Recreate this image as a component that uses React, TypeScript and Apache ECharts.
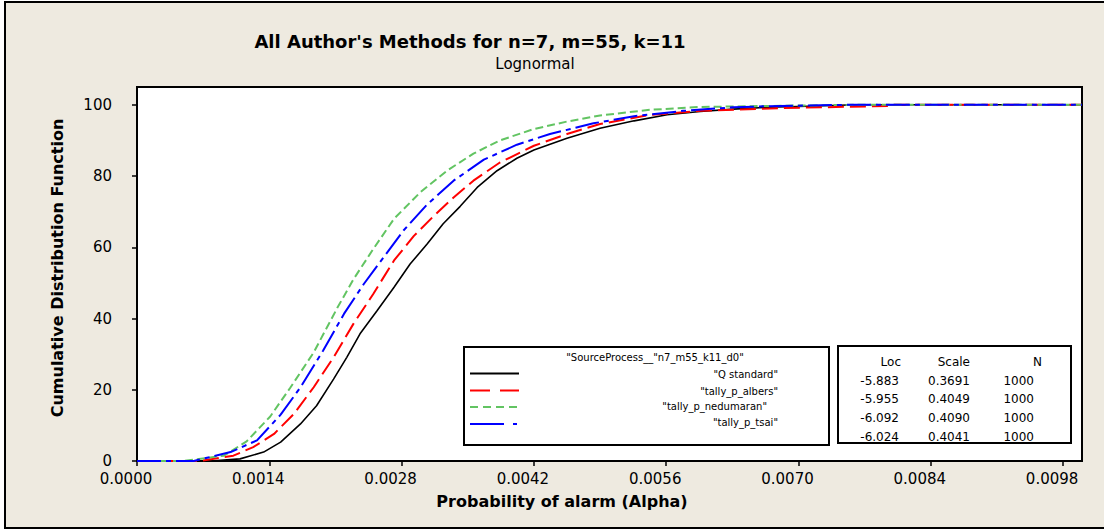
import React, { useEffect, useRef } from "react";
import * as echarts from "echarts";

// ---- Data ----
const X_TICKS = [0, 0.0014, 0.0028, 0.0042, 0.0056, 0.007, 0.0084, 0.0098];
const Y_TICKS = [0, 20, 40, 60, 80, 100];

const SERIES_NAMES = ["Q standard", "tally_p_albers", "tally_p_nedumaran", "tally_p_tsai"];

const qStdX = [0, 0.00078, 0.00109, 0.00134, 0.00152, 0.00173, 0.0019, 0.00208, 0.00222, 0.00236, 0.00254, 0.00272, 0.00289, 0.00307, 0.00324, 0.00342, 0.0036, 0.00381, 0.00402, 0.0042, 0.00455, 0.0049, 0.00526, 0.00561, 0.00596, 0.00631, 0.00667, 0.0071, 0.0076, 0.01];
const qStdY = [0, 0, 0.6, 2.5, 5.3, 10.4, 15.5, 23.0, 29.1, 35.7, 42.2, 48.8, 55.3, 60.9, 66.6, 71.5, 76.8, 81.5, 85.0, 87.3, 90.6, 93.4, 95.5, 97.2, 98.1, 98.8, 99.3, 99.6, 100, 100];

const albersX = [0, 0.00067, 0.00102, 0.00123, 0.00145, 0.00166, 0.00187, 0.00208, 0.00229, 0.0025, 0.00272, 0.00293, 0.00314, 0.00335, 0.00356, 0.00384, 0.0042, 0.00455, 0.0049, 0.00543, 0.00596, 0.00684, 0.008, 0.00801, 0.01];
const albersY = [0, 0, 1.5, 3.9, 7.6, 13.2, 20.7, 29.1, 38.5, 46.9, 56.3, 63.2, 68.8, 74.0, 78.7, 83.8, 88.5, 91.8, 94.6, 97.2, 98.3, 99.1, 99.7, 100, 100];

const nedumaranX = [0, 0.00049, 0.00092, 0.00116, 0.00141, 0.00162, 0.00187, 0.00212, 0.00229, 0.0025, 0.00272, 0.003, 0.00328, 0.00356, 0.00384, 0.0042, 0.00455, 0.0049, 0.00543, 0.00596, 0.007, 0.0076, 0.01];
const nedumaranY = [0, 0, 1.5, 5.5, 12.5, 20.5, 30.5, 43.0, 51.0, 59.5, 68.0, 75.5, 81.5, 86.3, 90.0, 93.2, 95.3, 97.0, 98.6, 99.4, 99.8, 100, 100];

const tsaiX = [0, 0.0006, 0.00099, 0.00127, 0.00152, 0.00173, 0.00197, 0.00219, 0.0024, 0.00261, 0.00282, 0.00307, 0.00335, 0.00367, 0.00402, 0.00437, 0.00483, 0.00526, 0.00578, 0.00631, 0.00667, 0.0075, 0.01];
const tsaiY = [0, 0, 2.5, 5.8, 13.0, 20.7, 31.0, 41.3, 49.7, 57.2, 64.7, 72.0, 78.7, 84.6, 88.8, 91.8, 94.8, 96.8, 98.3, 99.3, 99.6, 100, 100];

const STAT_LOC = ["-5.883", "-5.955", "-6.092", "-6.024"];
const STAT_SCALE = ["0.3691", "0.4049", "0.4090", "0.4041"];
const STAT_N = ["1000", "1000", "1000", "1000"];

const TITLE = "All Author's Methods for n=7, m=55, k=11";
const SUBTITLE = "Lognormal";
const X_NAME = "Probability of alarm (Alpha)";
const Y_NAME = "Cumulative Distribution Function";
const LEGEND_TITLE = '"SourceProcess__"n7_m55_k11_d0"';

// ---- Styles ----
const FONT = "'DejaVu Sans', sans-serif";
const COLORS = ["#000000", "#FF0000", "#62C462", "#0000FF"];
const CHART_DASH: any[] = ["solid", [16, 6], [8, 4], [24, 5, 5, 5]];
const LEGEND_DASH: any[] = [null, [20, 10], [8, 5], [34, 9, 4, 20]];

function pairs(xs: number[], ys: number[]) {
  return xs.map((x, i) => [x, ys[i]]);
}

function txt(text: string, x: number, y: number, font: string, align: string, extra: any = {}) {
  return {
    type: "text",
    x,
    y,
    z: 100,
    ...extra,
    style: {
      text,
      font,
      fill: "#000",
      align,
      textAlign: align,
      verticalAlign: "middle",
      textVerticalAlign: "middle",
    },
  };
}

export default function App() {
  const ref = useRef<HTMLDivElement>(null);

  useEffect(() => {
    if (!ref.current) return;
    const chart = echarts.init(ref.current, undefined, { renderer: "svg" });

    const datasets = [pairs(qStdX, qStdY), pairs(albersX, albersY), pairs(nedumaranX, nedumaranY), pairs(tsaiX, tsaiY)];

    const legendLineY = [373.5, 390.5, 407, 424];
    const legendTextY = [374, 391, 406, 422];
    const legendTextRight = [778, 778, 767, 778];
    const statRowY = [381, 399, 417.5, 436.5];

    const graphic: any[] = [
      txt(TITLE, 470, 41, `bold 18px ${FONT}`, "center"),
      txt(SUBTITLE, 535, 64, `15px ${FONT}`, "center"),
      txt(X_NAME, 562, 501, `bold 16px ${FONT}`, "center"),
      { ...txt(Y_NAME, 57, 268, `bold 16px ${FONT}`, "center"), rotation: Math.PI / 2 },
      // legend box
      {
        type: "rect",
        z: 90,
        shape: { x: 464, y: 347, width: 365, height: 98 },
        style: { fill: "#fff", stroke: "#000", lineWidth: 2 },
      },
      txt(LEGEND_TITLE, 655, 357, `10px ${FONT}`, "center"),
      // stats box
      {
        type: "rect",
        z: 90,
        shape: { x: 838, y: 346, width: 233, height: 97 },
        style: { fill: "#fff", stroke: "#000", lineWidth: 2 },
      },
      txt("Loc", 901, 361.5, `12px ${FONT}`, "right"),
      txt("Scale", 970, 361.5, `12px ${FONT}`, "right"),
      txt("N", 1042, 361.5, `12px ${FONT}`, "right"),
    ];

    SERIES_NAMES.forEach((name, i) => {
      const st: any = { stroke: COLORS[i], lineWidth: 2 };
      if (LEGEND_DASH[i]) st.lineDash = LEGEND_DASH[i];
      graphic.push({
        type: "line",
        z: 100,
        shape: { x1: 470, y1: legendLineY[i], x2: 519, y2: legendLineY[i] },
        style: st,
      });
      graphic.push(txt(`"${name}"`, legendTextRight[i], legendTextY[i], `10px ${FONT}`, "right"));
      graphic.push(txt(STAT_LOC[i], 899, statRowY[i], `12px ${FONT}`, "right"));
      graphic.push(txt(STAT_SCALE[i], 970, statRowY[i], `12px ${FONT}`, "right"));
      graphic.push(txt(STAT_N[i], 1034, statRowY[i], `12px ${FONT}`, "right"));
    });

    chart.setOption({
      animation: false,
      backgroundColor: "transparent",
      grid: {
        left: 137,
        top: 87,
        right: 22,
        bottom: 68,
        show: true,
        backgroundColor: "#fff",
        borderColor: "#000",
        borderWidth: 2,
      },
      xAxis: {
        type: "value",
        min: 0,
        max: 0.01,
        interval: 0.0014,
        axisLine: { show: true, onZero: false, lineStyle: { color: "#000", width: 2 } },
        axisTick: { show: true, length: 5, customValues: X_TICKS, lineStyle: { color: "#000", width: 1.5 } },
        axisLabel: {
          customValues: X_TICKS,
          color: "#000",
          fontSize: 15,
          fontFamily: FONT,
          margin: 10,
          padding: [0, 22, 0, 0],
          formatter: (v: number) => v.toFixed(4),
        },
        splitLine: { show: false },
      },
      yAxis: {
        type: "value",
        min: 0,
        max: 105,
        interval: 20,
        axisLine: { show: true, lineStyle: { color: "#000", width: 2 } },
        axisTick: { show: true, length: 5, customValues: Y_TICKS, lineStyle: { color: "#000", width: 1.5 } },
        axisLabel: {
          customValues: Y_TICKS,
          color: "#000",
          fontSize: 15,
          fontFamily: FONT,
          margin: 25,
        },
        splitLine: { show: false },
      },
      series: SERIES_NAMES.map((name, i) => ({
        type: "line",
        name,
        data: datasets[i],
        showSymbol: false,
        symbol: "none",
        smooth: false,
        lineStyle: { color: COLORS[i], width: i === 0 ? 1.6 : 2, type: CHART_DASH[i] },
        z: 2 + i,
      })),
      graphic,
    });

    return () => chart.dispose();
  }, []);

  return (
    <div style={{ position: "absolute", left: 0, top: 0, width: 1104, height: 529, overflow: "hidden", background: "#fff" }}>
      <div
        style={{
          position: "absolute",
          left: 4,
          top: 1,
          width: 1130,
          height: 524,
          border: "2px solid #000",
          background: "#EEEAE0",
        }}
      />
      <div ref={ref} style={{ position: "absolute", left: 0, top: 0, width: 1104, height: 529 }} />
    </div>
  );
}
